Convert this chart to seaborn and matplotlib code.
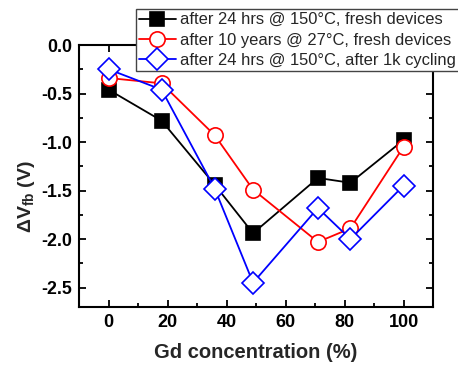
import matplotlib
matplotlib.use("Agg")
import matplotlib.pyplot as plt
import seaborn as sns
import pandas as pd
from matplotlib.ticker import MultipleLocator

gd = [0, 18, 36, 49, 71, 82, 100]
s_fresh_150 = [-0.46, -0.78, -1.44, -1.94, -1.37, -1.42, -0.98]
s_fresh_27 = [-0.34, -0.395, -0.93, -1.49, -2.03, -1.89, -1.05]
s_cyc_150 = [-0.25, -0.46, -1.48, -2.45, -1.68, -2.0, -1.45]
labels = ["after 24 hrs @ 150°C, fresh devices",
          "after 10 years @ 27°C, fresh devices",
          "after 24 hrs @ 150°C, after 1k cycling"]
xticks = [0, 20, 40, 60, 80, 100]
yticks = [0.0, -0.5, -1.0, -1.5, -2.0, -2.5]

sns.set_style("ticks")
plt.rcParams["font.family"] = ["Liberation Sans", "DejaVu Sans"]
plt.rcParams["mathtext.fontset"] = "custom"
plt.rcParams["mathtext.rm"] = "Liberation Sans"
plt.rcParams["mathtext.bf"] = "Liberation Sans:bold"
plt.rcParams["mathtext.it"] = "Liberation Sans:italic"

fig = plt.figure(figsize=(4.58, 3.67), dpi=100)
ax = fig.add_axes([79/458, 1-307/367, (433-79)/458, (307-45)/367])

styles = [
    dict(color="black", marker="s", markersize=10.5, markerfacecolor="black", markeredgecolor="black"),
    dict(color="red", marker="o", markersize=11, markerfacecolor="white", markeredgecolor="red"),
    dict(color="blue", marker="D", markersize=11, markerfacecolor="white", markeredgecolor="blue"),
]
series = [s_fresh_150, s_fresh_27, s_cyc_150]
for vals, lab, st in zip(series, labels, styles):
    df = pd.DataFrame({"x": gd, "y": vals})
    sns.lineplot(data=df, x="x", y="y", ax=ax, label=lab, linewidth=1.3,
                 markeredgewidth=1.2, **st)

ax.set_xlim(-10, 110)
ax.set_ylim(-2.7, 0.0)
ax.xaxis.set_minor_locator(MultipleLocator(10))
ax.yaxis.set_minor_locator(MultipleLocator(0.25))
ax.set_xticks(xticks)
ax.set_xticklabels([str(v) for v in xticks], fontweight="bold", fontsize=13)
ax.set_yticks(yticks)
ax.set_yticklabels([f"{v:.1f}" for v in yticks], fontweight="bold", fontsize=12.8)
ax.tick_params(which="both", direction="in", top=True, right=True, width=1.3, colors="black")
ax.tick_params(which="major", length=5, pad=5)
ax.tick_params(which="minor", length=3)
for sp in ax.spines.values():
    sp.set_linewidth(1.5)
    sp.set_color("black")

ax.set_xlabel("Gd concentration (%)", fontsize=14.5, fontweight="bold", labelpad=9)
ax.set_ylabel(r"$\mathbf{\Delta V_{fb}}$ (V)", fontsize=14, fontweight="bold")
ax.yaxis.set_label_coords(-0.118, 0.42)

leg = ax.legend(loc="upper left", bbox_to_anchor=(135.5/458, 1-9/367),
                bbox_transform=fig.transFigure, frameon=True, fancybox=False,
                fontsize=11.9, handlelength=2.25, handletextpad=0.25,
                borderpad=0.2, labelspacing=0.32, borderaxespad=0)
leg.get_frame().set_edgecolor("#444444")
leg.get_frame().set_linewidth(1.0)
leg.get_frame().set_alpha(1)

fig.savefig("out.png", dpi=100)
